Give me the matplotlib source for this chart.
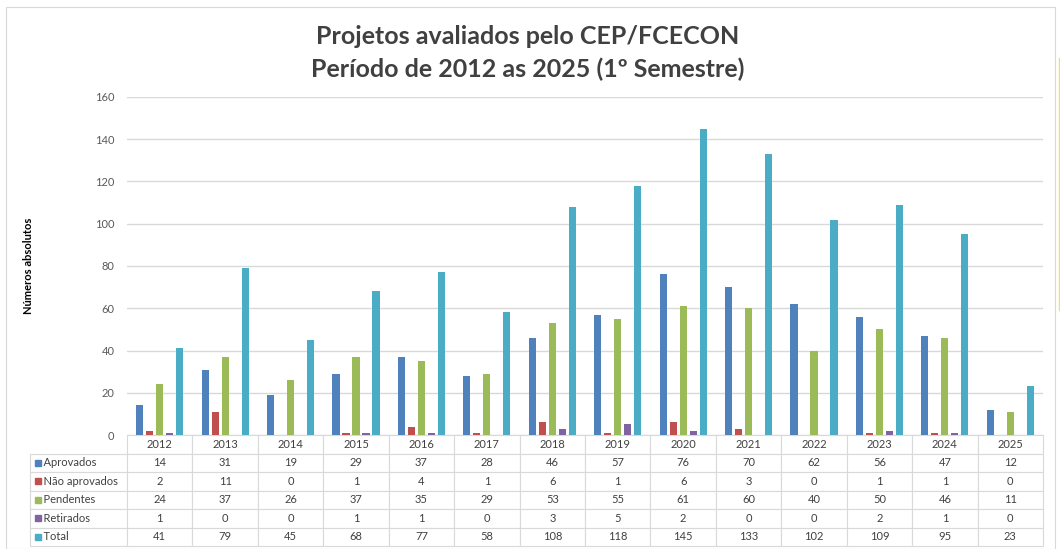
import matplotlib
matplotlib.use("Agg")
import matplotlib.pyplot as plt
from matplotlib.patches import Rectangle
from matplotlib.lines import Line2D
import numpy as np

years = ["2012", "2013", "2014", "2015", "2016", "2017", "2018", "2019",
         "2020", "2021", "2022", "2023", "2024", "2025"]
series_names = ["Aprovados", "Não aprovados", "Pendentes", "Retirados", "Total"]
aprovados = [14, 31, 19, 29, 37, 28, 46, 57, 76, 70, 62, 56, 47, 12]
nao_aprovados = [2, 11, 0, 1, 4, 1, 6, 1, 6, 3, 0, 1, 1, 0]
pendentes = [24, 37, 26, 37, 35, 29, 53, 55, 61, 60, 40, 50, 46, 11]
retirados = [1, 0, 0, 1, 1, 0, 3, 5, 2, 0, 0, 2, 1, 0]
total = [41, 79, 45, 68, 77, 58, 108, 118, 145, 133, 102, 109, 95, 23]
series = [aprovados, nao_aprovados, pendentes, retirados, total]
colors = ["#4F81BD", "#C0504D", "#9BBB59", "#8064A2", "#4BACC6"]

W, H = 1060, 549
fig = plt.figure(figsize=(W / 100, H / 100), dpi=100)
plt.rcParams['font.family'] = ['Lato', 'DejaVu Sans']

ax_l, ax_r, ax_t, ax_b = 127, 1043, 97, 435
ax = fig.add_axes([ax_l / W, 1 - ax_b / H, (ax_r - ax_l) / W, (ax_b - ax_t) / H])

n = len(years)
x = np.arange(n)
step = 0.153
bw = 0.11
for i, (vals, c) in enumerate(zip(series, colors)):
    ax.bar(x + (i - 2) * step, vals, width=bw, color=c, zorder=3)

ax.set_xlim(-0.5, n - 0.5)
ax.set_ylim(0, 160)
ax.set_yticks(range(0, 161, 20))
ax.yaxis.grid(True, color="#D9D9D9", linewidth=1, zorder=0)
ax.set_xticks([])
for s in ["top", "right", "left", "bottom"]:
    ax.spines[s].set_visible(False)
ax.tick_params(axis="y", length=0, pad=9, labelsize=8, labelcolor="#595959")
ax.set_ylabel("Números absolutos", fontsize=8, fontweight="bold", color="#000000")
ax.yaxis.set_label_coords((34 - ax_l) / (ax_r - ax_l), 0.5)

# data table
cell_text = [[str(v) for v in s] for s in series]
tbl_left = 30
ax_w = ax_r - ax_l
ax_h = ax_b - ax_t
label_w = ax_l - tbl_left
col_w = ax_w / n
tbl_h = 111
cells = [["    " + name] + row for name, row in zip(series_names, cell_text)]
col_labels = [""] + years
widths = [label_w / (ax_r - tbl_left)] + [col_w / (ax_r - tbl_left)] * n
table = ax.table(cellText=cells, colLabels=col_labels, colWidths=widths,
                 cellLoc="center",
                 bbox=[(tbl_left - ax_l) / ax_w, -tbl_h / ax_h,
                       (ax_r - tbl_left) / ax_w, tbl_h / ax_h])
table.auto_set_font_size(False)
table.set_fontsize(8)
for (r, c), cell in table.get_celld().items():
    cell.set_edgecolor("#D9D9D9")
    cell.set_linewidth(0.8)
    cell.get_text().set_color("#404040")
    if c == 0:
        cell.get_text().set_ha("left")
        cell._loc = "left"
        cell.PAD = 0.02
    if r == 0 and c == 0:
        cell.visible_edges = ""

# colored squares in row labels
row_h = tbl_h / 6
for i, c in enumerate(colors):
    yc = ax_b + row_h * (i + 1.5)
    sq = 6
    fig.add_artist(Rectangle(((tbl_left + 5) / W, 1 - (yc + sq / 2) / H), sq / W, sq / H,
                             transform=fig.transFigure, color=c))

fig.text(528 / W, 1 - 37 / H, "Projetos avaliados pelo CEP/FCECON", ha="center", va="center",
         fontsize=18, fontweight="bold", color="#404040")
fig.text(528 / W, 1 - 69 / H, "Período de 2012 as 2025 (1º Semestre)", ha="center", va="center",
         fontsize=18, fontweight="bold", color="#404040")

# outer frame
fig.add_artist(Rectangle((6 / W, 0), 1049 / W, 1 - 7 / H, transform=fig.transFigure,
                         fill=False, edgecolor="#D9D9D9", linewidth=0.8))
fig.add_artist(Line2D([1058.5 / W, 1058.5 / W], [1 - 58 / H, 1 - 310 / H],
                      transform=fig.transFigure, color="#F2E34C", linewidth=1))

fig.savefig("out.png", dpi=100)
